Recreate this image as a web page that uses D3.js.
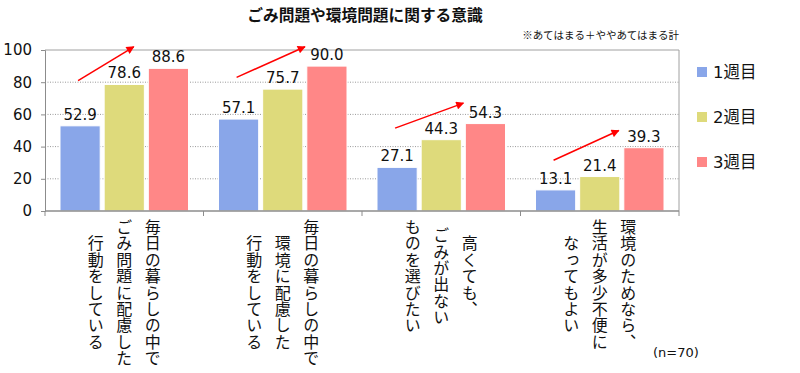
<!DOCTYPE html>
<html><head><meta charset="utf-8">
<script src="https://cdn.jsdelivr.net/npm/d3@7"></script>
<style>
html,body{margin:0;padding:0;background:#fff;}
svg{display:block;}
</style></head>
<body>
<script>
// ---- data ----
const categories = ["cat1","cat2","cat3","cat4"];
const categoryLines = [
  ["毎日の暮らしの中で","ごみ問題に配慮した","行動をしている"],
  ["毎日の暮らしの中で","環境に配慮した","行動をしている"],
  ["高くても、","ごみが出ない","ものを選びたい"],
  ["環境のためなら、","生活が多少不便に","なってもよい"]
];
const seriesNames = ["1週目","2週目","3週目"];
const week1 = [52.9, 57.1, 27.1, 13.1];
const week2 = [78.6, 75.7, 44.3, 21.4];
const week3 = [88.6, 90.0, 54.3, 39.3];
const yTicks = [0, 20, 40, 60, 80, 100];
// trend-arrow annotation (value units): start and end heights
const arrowFrom = [81, 83, 51.5, 31.5];
const arrowTo   = [102, 102, 67, 50];
const colors = ["#89A6E9", "#DEDA7B", "#FF8787"];
const title = "ごみ問題や環境問題に関する意識";
const note = "※あてはまる＋ややあてはまる計";
const nNote = "(n=70)";

const W = 800, H = 373;
const svg = d3.select("body").append("svg").attr("width", W).attr("height", H);
const numFont = "'DejaVu Sans', Verdana, sans-serif";
const jpFont = "'Noto Sans CJK JP', sans-serif";

const pLeft = 45, pRight = 679, pTop = 50, pBottom = 211;
const x = d3.scaleBand().domain(categories).range([pLeft, pRight]).padding(0);
const x1 = d3.scaleBand().domain(seriesNames).range([15, x.bandwidth() - 15]).paddingInner(0.09).paddingOuter(0);
const y = d3.scaleLinear().domain([0, 100]).range([pBottom, pTop]);

const series = [week1, week2, week3];

// gridlines
svg.append("g").selectAll("line").data(yTicks.filter(t => t > 0 && t < 100)).join("line")
  .attr("x1", pLeft).attr("x2", pRight).attr("y1", d => y(d)).attr("y2", d => y(d))
  .attr("stroke", "#9a9a9a").attr("stroke-width", 1).attr("stroke-dasharray", "1,1.5");

// frame: top & right
svg.append("line").attr("x1", pLeft).attr("x2", pRight).attr("y1", y(100)).attr("y2", y(100))
  .attr("stroke", "#a0a0a0").attr("stroke-width", 1);
svg.append("line").attr("x1", pRight).attr("x2", pRight).attr("y1", y(100)).attr("y2", y(0))
  .attr("stroke", "#a0a0a0").attr("stroke-width", 1);

// bars
const g = svg.append("g");
categories.forEach((c, i) => {
  seriesNames.forEach((s, j) => {
    const v = series[j][i];
    g.append("rect")
      .attr("x", x(c) + x1(s)).attr("y", y(v))
      .attr("width", x1.bandwidth()).attr("height", y(0) - y(v))
      .attr("fill", colors[j]).attr("stroke", "#fff").attr("stroke-width", 1);
    g.append("text")
      .attr("x", x(c) + x1(s) + x1.bandwidth() / 2).attr("y", y(v) - 6)
      .attr("text-anchor", "middle").attr("font-family", numFont).attr("font-size", 15)
      .attr("fill", "#111").text(v.toFixed(1));
  });
});

// y axis
const yAxis = d3.axisLeft(y).tickValues(yTicks).tickSize(4).tickPadding(9).tickFormat(d3.format("d"));
const ya = svg.append("g").attr("transform", `translate(${pLeft},0)`).call(yAxis);
ya.select(".domain").attr("stroke", "#8c8c8c");
ya.selectAll(".tick line").attr("stroke", "#8c8c8c");
ya.selectAll("text").attr("font-family", numFont).attr("font-size", 15).attr("fill", "#111");

// x axis: baseline + boundary ticks
svg.append("line").attr("x1", pLeft).attr("x2", pRight).attr("y1", y(0)).attr("y2", y(0))
  .attr("stroke", "#8c8c8c").attr("stroke-width", 1.5);
const bounds = categories.map(c => x(c)).concat([pRight]);
svg.append("g").selectAll("line").data(bounds).join("line")
  .attr("x1", d => d).attr("x2", d => d).attr("y1", y(0)).attr("y2", y(0) + 5)
  .attr("stroke", "#8c8c8c").attr("stroke-width", 1);

// vertical category labels
const fs = 16, ls = 0.4, colGap = 28.5, labelTop = 219;
categories.forEach((c, i) => {
  const lines = categoryLines[i];
  const maxLen = d3.max(lines, l => l.length);
  const cx = x(c) + x.bandwidth() / 2;
  const blockMid = labelTop + maxLen * (fs + ls) / 2;
  lines.forEach((l, k) => {
    const col = cx + (1 - k) * colGap;
    svg.append("text")
      .attr("x", col).attr("y", blockMid)
      .attr("writing-mode", "vertical-rl")
      .style("writing-mode", "vertical-rl")
      .style("letter-spacing", ls + "px")
      .attr("text-anchor", "middle")
      .attr("font-family", jpFont).attr("font-size", fs).attr("fill", "#111")
      .text(l);
  });
});

// arrows
const defs = svg.append("defs");
defs.append("marker").attr("id", "ah").attr("viewBox", "0 0 10 10")
  .attr("refX", 9).attr("refY", 5).attr("markerWidth", 9).attr("markerHeight", 8)
  .attr("markerUnits", "userSpaceOnUse").attr("orient", "auto")
  .append("path").attr("d", "M0,0 L10,5 L0,10 z").attr("fill", "#ff0000");
const arrowEndX = [0.56, 0.64, 0.64, 0.62];
categories.forEach((c, i) => {
  const x0 = x(c) + x1(seriesNames[0]) + x1.bandwidth() / 2 - 2;
  const xe = x(c) + x.bandwidth() * arrowEndX[i];
  svg.append("line")
    .attr("x1", x0).attr("y1", y(arrowFrom[i]))
    .attr("x2", xe).attr("y2", y(arrowTo[i]))
    .attr("stroke", "#ff0000").attr("stroke-width", 1.5)
    .attr("marker-end", "url(#ah)");
});

// title & notes
svg.append("text").attr("x", 365).attr("y", 21).attr("text-anchor", "middle")
  .attr("font-family", jpFont).attr("font-weight", "bold").attr("font-size", 15.7)
  .attr("fill", "#111").text(title);
svg.append("text").attr("x", pRight).attr("y", 39).attr("text-anchor", "end")
  .attr("font-family", jpFont).attr("font-size", 10.5).attr("fill", "#111").text(note);
svg.append("text").attr("x", 653).attr("y", 357)
  .attr("font-family", numFont).attr("font-size", 13).attr("fill", "#111").text(nNote);

// legend
const leg = svg.append("g");
seriesNames.forEach((s, j) => {
  const ly = 72 + j * 45;
  leg.append("rect").attr("x", 697).attr("y", ly - 5).attr("width", 10).attr("height", 10)
    .attr("fill", colors[j]);
  leg.append("text").attr("x", 713).attr("y", ly + 6)
    .attr("font-family", "'DejaVu Sans','Noto Sans CJK JP',sans-serif").attr("font-size", 16.5)
    .attr("fill", "#111").text(s);
});
</script>
</body></html>
